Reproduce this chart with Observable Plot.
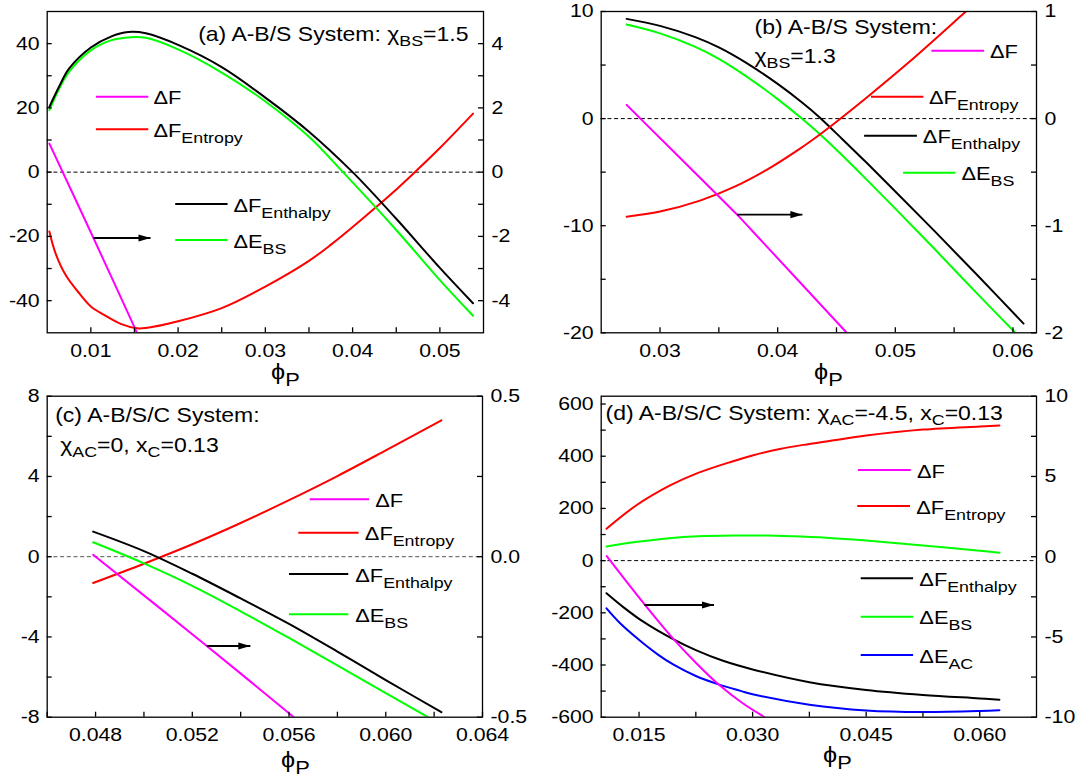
<!DOCTYPE html>
<html><head><meta charset="utf-8">
<script src="https://cdn.jsdelivr.net/npm/d3@7"></script>
<script src="https://cdn.jsdelivr.net/npm/@observablehq/plot@0.6"></script>
<style>
html,body{margin:0;padding:0;background:#fff;}
#chart{position:relative;width:1081px;height:778px;overflow:hidden;font-family:Arial,"Liberation Sans",sans-serif;background:#fff;}
#chart svg{position:absolute;left:0;top:0;background:transparent;max-width:none;overflow:visible;}
</style></head><body><div id="chart"></div>
<script>
// ---------------- DATA ----------------
// Panel (a): A-B/S, chi_BS = 1.5   (dF on right axis)
const a_xTicks = [0.01, 0.02, 0.03, 0.04, 0.05];
const a_xMinor = [0.015, 0.025, 0.035, 0.045];
const a_yTicks = [-40, -20, 0, 20, 40];
const a_yMinor = [-30, -10, 10, 30];
const a_rTicks = [-4, -2, 0, 2, 4];
const a_rMinor = [-3, -1, 1, 3];
const a_dF = [[0.00525, 0.89], [0.0103, -2.05], [0.0153, -5.0]];
const a_entropy = [[0.00525,-18.5],[0.00596,-25.3],[0.00715,-32.2],[0.00873,-37.9],[0.010,-41.8],[0.0115,-44.4],[0.0135,-47.3],[0.0153,-48.6],[0.0163,-48.5],[0.020,-46.4],[0.025,-42.3],[0.030,-35.6],[0.035,-27.6],[0.0376,-22.4],[0.040,-17.1],[0.0426,-11.1],[0.0452,-4.9],[0.0471,-0.1],[0.050,7.5],[0.0538,18.2]];
const a_enthalpy = [[0.00525,20.3],[0.0064,26.8],[0.0075,32.2],[0.010,38.8],[0.0123,42.2],[0.0143,43.6],[0.0163,43.2],[0.020,39.6],[0.025,32.7],[0.030,23.2],[0.035,12.6],[0.040,0],[0.045,-14.5],[0.050,-29.8],[0.0538,-40.8]];
const a_EBS = [[0.00525,19.3],[0.0064,26.1],[0.0075,31.2],[0.010,37.9],[0.0123,41.0],[0.0146,42.0],[0.0163,41.8],[0.020,38.2],[0.025,31.0],[0.030,22.0],[0.035,11.0],[0.0389,0],[0.045,-18.0],[0.050,-33.6],[0.0538,-44.7]];
const a_arrow = [[0.01032, -20.5], [0.01684, -20.5]];

// Panel (b): A-B/S, chi_BS = 1.3
const b_xTicks = [0.03, 0.04, 0.05, 0.06];
const b_xMinor = [0.035, 0.045, 0.055];
const b_yTicks = [-20, -10, 0, 10];
const b_yMinor = [-15, -5, 5];
const b_rTicks = [-2, -1, 0, 1];
const b_rMinor = [-1.5, -0.5, 0.5];
const b_dF = [[0.02716,0.128],[0.02833,0],[0.03479,-0.704],[0.03655,-0.897],[0.03783,-1.047],[0.04587,-2.0]];
const b_entropy = [[0.02716,-9.16],[0.030,-8.68],[0.0334,-7.66],[0.0363,-6.38],[0.0391,-4.76],[0.0419,-2.8],[0.0435,-1.55],[0.045,-0.29],[0.0476,2.0],[0.0513,5.4],[0.0558,9.81],[0.0565,10.5]];
const b_enthalpy = [[0.02716,9.31],[0.030,8.66],[0.033,7.61],[0.035,6.65],[0.0374,5.16],[0.040,3.24],[0.0421,1.48],[0.0435,0.18],[0.0455,-1.92],[0.0475,-4.06],[0.050,-6.81],[0.0534,-10.58],[0.057,-14.65],[0.0609,-19.14]];
const b_EBS = [[0.02716,8.78],[0.030,7.96],[0.033,6.7],[0.035,5.58],[0.0374,3.9],[0.040,1.82],[0.0421,-0.03],[0.0435,-1.37],[0.0455,-3.45],[0.0475,-5.63],[0.050,-8.41],[0.0534,-12.25],[0.057,-16.39],[0.06065,-20.5]];
const b_arrow = [[0.03655, -8.97], [0.0421, -8.97]];

// Panel (c): A-B/S/C, chi_AC = 0, x_C = 0.13
const c_xTicks = [0.048, 0.052, 0.056, 0.060, 0.064];
const c_xMinor = [0.046, 0.050, 0.054, 0.058, 0.062];
const c_yTicks = [-8, -4, 0, 4, 8];
const c_yMinor = [-6, -2, 2, 6];
const c_rTicks = [-0.5, 0, 0.5];
const c_rMinor = [-0.25, 0.25];
const c_dF = [[0.0479,0.006],[0.0526,-0.278],[0.0562,-0.5]];
const c_entropy = [[0.0479,-1.31],[0.050,-0.35],[0.052,0.62],[0.054,1.68],[0.056,2.82],[0.058,4.02],[0.060,5.3],[0.0623,6.8]];
const c_enthalpy = [[0.0479,1.25],[0.050,0.28],[0.052,-0.85],[0.054,-2.08],[0.056,-3.35],[0.058,-4.73],[0.060,-6.15],[0.0623,-7.75]];
const c_EBS = [[0.0479,0.72],[0.050,-0.33],[0.052,-1.45],[0.054,-2.72],[0.056,-4.05],[0.058,-5.42],[0.060,-6.8],[0.06175,-8.0]];
const c_arrow = [[0.0526, -4.45], [0.0544, -4.45]];

// Panel (d): A-B/S/C, chi_AC = -4.5, x_C = 0.13
const d_xTicks = [0.015, 0.030, 0.045, 0.060];
const d_xMinor = [0.0225, 0.0375, 0.0525];
const d_yTicks = [-600, -400, -200, 0, 200, 400, 600];
const d_yMinor = [-500, -300, -100, 100, 300, 500];
const d_rTicks = [-10, -5, 0, 5, 10];
const d_rMinor = [-7.5, -2.5, 2.5, 7.5];
const d_dF = [[0.01073,0.04],[0.0157,-2.95],[0.0195,-5.1],[0.0226,-6.65],[0.0256,-8.0],[0.0286,-9.1],[0.0316,-10.0]];
const d_entropy = [[0.0107,122],[0.0146,211],[0.0191,288],[0.0228,336],[0.0272,379],[0.030,403],[0.0336,428],[0.0375,447],[0.0405,460],[0.045,479],[0.0525,502],[0.060,514],[0.0626,518]];
const d_EBS = [[0.0107,54],[0.0145,71],[0.019,86],[0.0228,93],[0.0275,96],[0.032,96],[0.0365,92],[0.0416,84],[0.045,77],[0.0525,58],[0.060,38],[0.0626,30]];
const d_enthalpy = [[0.0107,-125],[0.013,-180],[0.0155,-233],[0.0195,-301],[0.0225,-343],[0.026,-383],[0.030,-417],[0.0375,-466],[0.045,-496],[0.0525,-515],[0.060,-528],[0.0626,-533]];
const d_EAC = [[0.0107,-183],[0.0125,-240],[0.0151,-306],[0.0175,-360],[0.0195,-398],[0.0225,-442],[0.0257,-476],[0.0284,-499],[0.030,-512],[0.0375,-552],[0.045,-574],[0.0525,-580],[0.060,-576],[0.0626,-573]];
const d_arrow = [[0.0157, -170], [0.0249, -170]];

// ---------------- STYLE / LAYOUT ----------------
const FONT = "Arial, 'Liberation Sans', sans-serif";
const W = 1081, H = 778;
const SX = 1.15; // horizontal stretch of the original lettering
const COL = {dF: "#ff00ff", ent: "#ff0000", enth: "#000000", ebs: "#00ff00", eac: "#0000ff"};

const arrowHead = {
  draw(ctx) { ctx.moveTo(-12, -3.6); ctx.lineTo(0, 0); ctx.lineTo(-12, 3.6); ctx.closePath(); }
};

function stretchTexts(svg) {
  svg.querySelectorAll('g[aria-label*="tick label"] text').forEach(t => {
    const tr = t.getAttribute("transform");
    if (tr) t.setAttribute("transform", tr + ` scale(${SX},1)`);
    else {
      const x = +(t.getAttribute("x") || 0), y = +(t.getAttribute("y") || 0);
      t.removeAttribute("x"); t.removeAttribute("y");
      t.setAttribute("transform", `translate(${x},${y}) scale(${SX},1)`);
    }
  });
}

function buildPanel(p) {
  const [x0, x1, y0, y1] = p.frame;
  const fw = x1 - x0, fh = y1 - y0;
  const marks = [];
  marks.push(Plot.ruleY([0], {y: d => d, stroke: p.zeroStroke, strokeWidth: 1, strokeDasharray: "4,2.7"}));
  for (const s of p.series) {
    const rows = s.data.map(([x, v]) => ({x, y: s.right ? p.toLeft(v) : v}));
    marks.push(Plot.line(rows, {x: "x", y: "y", stroke: s.color, strokeWidth: 2, curve: "catmull-rom", clip: true}));
  }
  const ar = [{x1: p.arrow[0][0], y1: p.arrow[0][1], x2: p.arrow[1][0], y2: p.arrow[1][1]}];
  marks.push(Plot.link(ar, {x1: "x1", y1: "y1", x2: "x2", y2: "y2", stroke: "black", strokeWidth: 1.8}));
  marks.push(Plot.dot(ar, {x: "x2", y: "y2", symbol: arrowHead, r: 5, fill: "black", stroke: "none"}));
  const tk = {stroke: "black", strokeWidth: 1.3};
  marks.push(Plot.ruleX([...p.xTicks, ...p.xMinor], {x: d => d, insetTop: fh - 5, ...tk}));
  marks.push(Plot.ruleY([...p.yTicks, ...p.yMinor], {y: d => d, insetRight: fw - 5, ...tk}));
  marks.push(Plot.ruleY([...p.rTicks, ...p.rMinor].map(p.toLeft), {y: d => d, insetLeft: fw - 5, ...tk}));
  marks.push(Plot.frame({stroke: "black", strokeWidth: 1.3}));
  const txt = {fontSize: 18.5, fontFamily: FONT, fill: "black", label: null, tickSize: 0};
  marks.push(Plot.axisX({ticks: p.xTicks, tickPadding: 11, tickFormat: p.xFormat, ...txt}));
  marks.push(Plot.axisY({anchor: "left", ticks: p.yTicks, tickPadding: 7.5, tickFormat: d => String(d), ...txt}));
  marks.push(Plot.axisY({anchor: "right", ticks: p.rTicks.map(p.toLeft), tickPadding: 8,
    tickFormat: d => p.rFormat(Math.round(p.toRight(d) * 1000) / 1000), ...txt}));
  const svg = Plot.plot({
    width: W, height: H,
    marginLeft: x0, marginRight: W - x1, marginTop: y0, marginBottom: H - y1,
    x: {domain: p.xDomain}, y: {domain: p.yDomain},
    marks
  });
  svg.setAttribute("font-family", FONT);
  svg.style.background = "transparent";
  stretchTexts(svg);
  return svg;
}

const panels = [
  {frame: [46.7, 483, 11, 332.3], xDomain: [0.005, 0.055], yDomain: [-50, 50],
   toLeft: r => r * 10, toRight: l => l / 10, rFormat: r => String(r), xFormat: d3.format(".2f"),
   xTicks: a_xTicks, xMinor: a_xMinor, yTicks: a_yTicks, yMinor: a_yMinor, rTicks: a_rTicks, rMinor: a_rMinor,
   zeroStroke: "black", arrow: a_arrow,
   series: [{data: a_entropy, color: COL.ent}, {data: a_EBS, color: COL.ebs}, {data: a_enthalpy, color: COL.enth}, {data: a_dF, color: COL.dF, right: true}]},
  {frame: [600.7, 1036, 11, 332.3], xDomain: [0.025, 0.062], yDomain: [-20, 10],
   toLeft: r => r * 10, toRight: l => l / 10, rFormat: r => String(r), xFormat: d3.format(".2f"),
   xTicks: b_xTicks, xMinor: b_xMinor, yTicks: b_yTicks, yMinor: b_yMinor, rTicks: b_rTicks, rMinor: b_rMinor,
   zeroStroke: "black", arrow: b_arrow,
   series: [{data: b_EBS, color: COL.ebs}, {data: b_enthalpy, color: COL.enth}, {data: b_entropy, color: COL.ent}, {data: b_dF, color: COL.dF, right: true}]},
  {frame: [46.7, 482, 395.7, 716.7], xDomain: [0.046, 0.064], yDomain: [-8, 8],
   toLeft: r => r * 16, toRight: l => l / 16, rFormat: r => r.toFixed(1), xFormat: d3.format(".3f"),
   xTicks: c_xTicks, xMinor: c_xMinor, yTicks: c_yTicks, yMinor: c_yMinor, rTicks: c_rTicks, rMinor: c_rMinor,
   zeroStroke: "#555", arrow: c_arrow,
   series: [{data: c_entropy, color: COL.ent}, {data: c_enthalpy, color: COL.enth}, {data: c_EBS, color: COL.ebs}, {data: c_dF, color: COL.dF, right: true}]},
  {frame: [600.7, 1036, 395.7, 716.7], xDomain: [0.01, 0.0675], yDomain: [-600, 630],
   toLeft: r => r * 61.5 + 15, toRight: l => (l - 15) / 61.5, rFormat: r => String(r), xFormat: d3.format(".3f"),
   xTicks: d_xTicks, xMinor: d_xMinor, yTicks: d_yTicks, yMinor: d_yMinor, rTicks: d_rTicks, rMinor: d_rMinor,
   zeroStroke: "black", arrow: d_arrow,
   series: [{data: d_entropy, color: COL.ent}, {data: d_EBS, color: COL.ebs}, {data: d_enthalpy, color: COL.enth}, {data: d_EAC, color: COL.eac}, {data: d_dF, color: COL.dF, right: true}]}
];

const root = document.getElementById("chart");
for (const p of panels) root.appendChild(buildPanel(p));

// ---------------- ANNOTATIONS (titles, legends, axis labels) ----------------
const NS = "http://www.w3.org/2000/svg";
const ov = document.createElementNS(NS, "svg");
ov.setAttribute("width", W); ov.setAttribute("height", H);
ov.setAttribute("font-family", FONT);
root.appendChild(ov);

function rich(x, y, parts, size, subSize, shift, anchor) {
  const t = document.createElementNS(NS, "text");
  t.setAttribute("transform", `translate(${x},${y}) scale(${SX},1)`);
  t.setAttribute("font-size", size);
  t.setAttribute("fill", "black");
  if (anchor) t.setAttribute("text-anchor", anchor);
  let cur = 0;
  for (const [s, sub] of parts) {
    const ts = document.createElementNS(NS, "tspan");
    const target = sub ? shift : 0;
    if (target !== cur) ts.setAttribute("dy", target - cur);
    cur = target;
    if (sub) ts.setAttribute("font-size", subSize);
    ts.textContent = s;
    t.appendChild(ts);
  }
  ov.appendChild(t);
}
function legendItem(x0, x1, y, color, labelX, parts) {
  const l = document.createElementNS(NS, "line");
  l.setAttribute("x1", x0); l.setAttribute("x2", x1);
  l.setAttribute("y1", y); l.setAttribute("y2", y);
  l.setAttribute("stroke", color); l.setAttribute("stroke-width", 2);
  ov.appendChild(l);
  rich(labelX, y + 7.5, parts, 19, 15.5, 6);
}

// titles
rich(468.5, 40.5, [["(a) A-B/S System: χ", false], ["BS", true], ["=1.5", false]], 20, 15.5, 5, "end");
rich(754.5, 34, [["(b) A-B/S System:", false]], 20, 15.5, 5);
rich(754.5, 63, [["χ", false], ["BS", true], ["=1.3", false]], 20, 15.5, 5);
rich(55.2, 422.3, [["(c) A-B/S/C System:", false]], 20, 15.5, 5);
rich(60.3, 452.3, [["χ", false], ["AC", true], ["=0, x", false], ["C", true], ["=0.13", false]], 20, 15.5, 5);
rich(605.5, 420, [["(d) A-B/S/C System: χ", false], ["AC", true], ["=-4.5, x", false], ["C", true], ["=0.13", false]], 20, 15.5, 5);

// legends (a)
legendItem(95.9, 148.3, 96.7, COL.dF, 153.4, [["ΔF", false]]);
legendItem(95.9, 148.3, 129.3, COL.ent, 153.4, [["ΔF", false], ["Entropy", true]]);
legendItem(175.2, 227.6, 204, COL.enth, 233.4, [["ΔF", false], ["Enthalpy", true]]);
legendItem(175.2, 227.6, 240, COL.ebs, 233.4, [["ΔE", false], ["BS", true]]);
// legends (b)
legendItem(931.4, 984.1, 50.7, COL.dF, 990, [["ΔF", false]]);
legendItem(871, 923.4, 96.7, COL.ent, 929, [["ΔF", false], ["Entropy", true]]);
legendItem(864.1, 916.9, 135.7, COL.enth, 922.8, [["ΔF", false], ["Enthalpy", true]]);
legendItem(903.1, 955.5, 172.7, COL.ebs, 961.4, [["ΔE", false], ["BS", true]]);
// legends (c)
legendItem(309.7, 369, 499.3, COL.dF, 375.2, [["ΔF", false]]);
legendItem(298.3, 358.6, 532.7, COL.ent, 364.8, [["ΔF", false], ["Entropy", true]]);
legendItem(289, 348.3, 574, COL.enth, 355.2, [["ΔF", false], ["Enthalpy", true]]);
legendItem(289, 348.3, 614.3, COL.ebs, 355.2, [["ΔE", false], ["BS", true]]);
// legends (d)
legendItem(857.9, 910.7, 470, COL.dF, 916.9, [["ΔF", false]]);
legendItem(857.2, 910, 506, COL.ent, 916.2, [["ΔF", false], ["Entropy", true]]);
legendItem(860.7, 913.1, 578.3, COL.enth, 919.3, [["ΔF", false], ["Enthalpy", true]]);
legendItem(860.7, 913.1, 616.7, COL.ebs, 919.3, [["ΔE", false], ["BS", true]]);
legendItem(860.7, 913.1, 655, COL.eac, 919.3, [["ΔE", false], ["AC", true]]);

// x-axis titles
rich(271, 379, [["ϕ", false], ["P", true]], 22, 19, 7);
rich(814, 379, [["ϕ", false], ["P", true]], 22, 19, 7);
rich(281, 767, [["ϕ", false], ["P", true]], 22, 19, 7);
rich(823, 762, [["ϕ", false], ["P", true]], 22, 19, 7);
</script></body></html>
